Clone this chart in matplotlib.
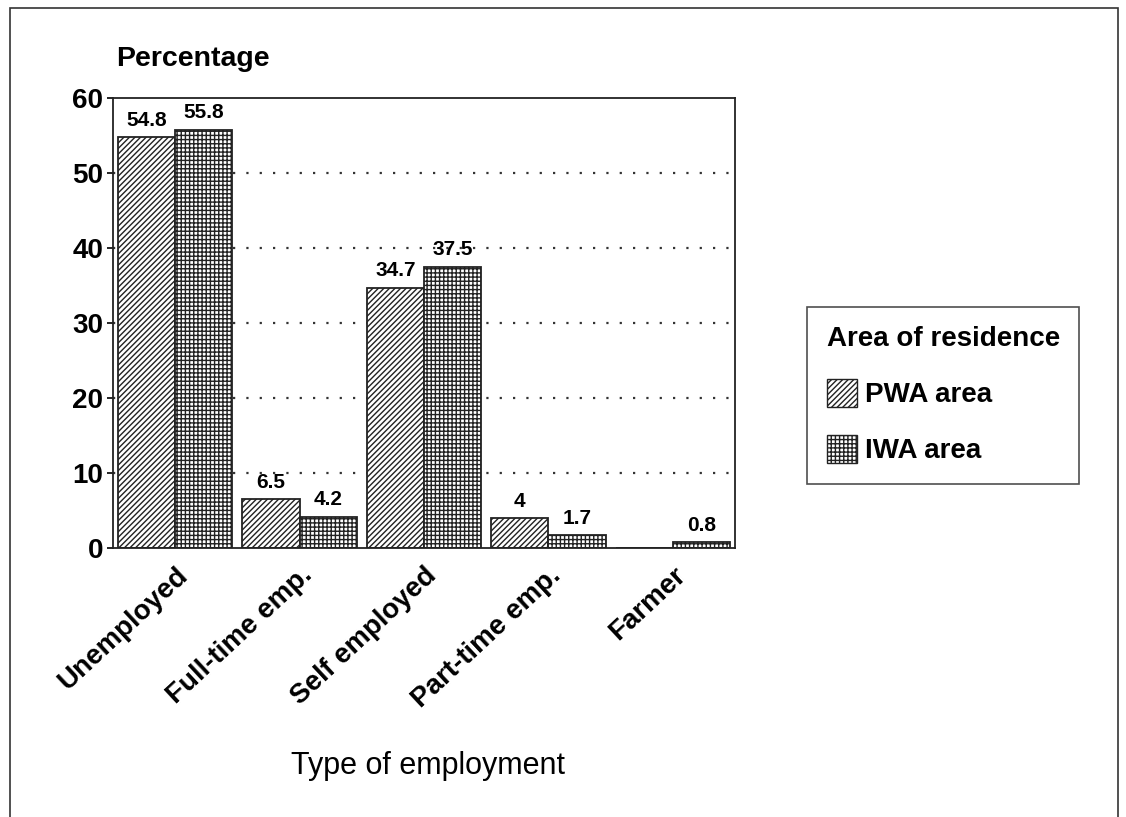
import matplotlib.pyplot as plt
from matplotlib.patches import Rectangle, Patch
import numpy as np

# data
categories = ['Unemployed', 'Full-time emp.', 'Self employed', 'Part-time emp.', 'Farmer']
pwa = [54.8, 6.5, 34.7, 4, 0]
iwa = [55.8, 4.2, 37.5, 1.7, 0.8]
pwa_labels = ['54.8', '6.5', '34.7', '4', '']
iwa_labels = ['55.8', '4.2', '37.5', '1.7', '0.8']

plt.rcParams['font.family'] = ['Liberation Sans', 'DejaVu Sans']
plt.rcParams['hatch.linewidth'] = 1.0

fig = plt.figure(figsize=(11.26, 8.17), dpi=100)
ax = fig.add_axes([0.1004, 0.329, 0.5524, 0.551])

# frame around the whole figure
fig.patches.append(Rectangle((0.009, -0.05), 0.984, 1.04, transform=fig.transFigure,
                             fill=False, edgecolor='#333333', linewidth=1.2))

x = np.arange(len(categories))
w = 0.46
ax.bar(x - w / 2, pwa, w, color='white', edgecolor='#222222', hatch='//////', linewidth=1.3)
ax.bar(x + w / 2, iwa, w, color='white', edgecolor='#222222', hatch='++++', linewidth=1.3)

for xi, v, t in zip(x, pwa, pwa_labels):
    if t:
        ax.text(xi - w / 2, v + 1.0, t, ha='center', va='bottom', fontsize=15, fontweight='bold')
for xi, v, t in zip(x, iwa, iwa_labels):
    ax.text(xi + w / 2, v + 1.0, t, ha='center', va='bottom', fontsize=15, fontweight='bold')

ax.set_xlim(-0.5, 4.5)
ax.set_ylim(0, 60)
ax.set_yticks(range(0, 61, 10))
for yv in range(10, 60, 10):
    ax.axhline(yv, color='#333333', linestyle=(0, (1, 5)), linewidth=1.6, zorder=0)

ax.set_xticks(x)
ax.set_xticklabels(categories, rotation=43, ha='right', rotation_mode='anchor',
                   fontsize=20, fontweight='bold')
ax.tick_params(axis='x', length=0, pad=10)
ax.tick_params(axis='y', length=4, width=1.2, direction='out', labelsize=20, pad=3)
for lab in ax.get_yticklabels():
    lab.set_fontweight('bold')

for s in ax.spines.values():
    s.set_linewidth(1.3)
    s.set_color('#222222')

fig.text(0.103, 0.912, 'Percentage', fontsize=20.5, fontweight='bold', ha='left', va='bottom')
fig.text(0.380, 0.063, 'Type of employment', fontsize=22, ha='center', va='center')

handles = [Patch(facecolor='white', edgecolor='#222222', hatch='//////', label='PWA area'),
           Patch(facecolor='white', edgecolor='#222222', hatch='++++', label='IWA area')]
leg = fig.legend(handles=handles, title='Area of residence', loc='center left',
                 bbox_to_anchor=(0.7045, 0.516), frameon=True, fancybox=False,
                 edgecolor='#222222', fontsize=20, title_fontsize=20,
                 handlelength=1.1, handleheight=1.2, handletextpad=0.3,
                 labelspacing=0.95, borderpad=0.7, alignment='left')
leg.get_title().set_fontweight('bold')
for t in leg.get_texts():
    t.set_fontweight('bold')
leg.get_frame().set_linewidth(1.2)

fig.savefig('out.png', dpi=100)
